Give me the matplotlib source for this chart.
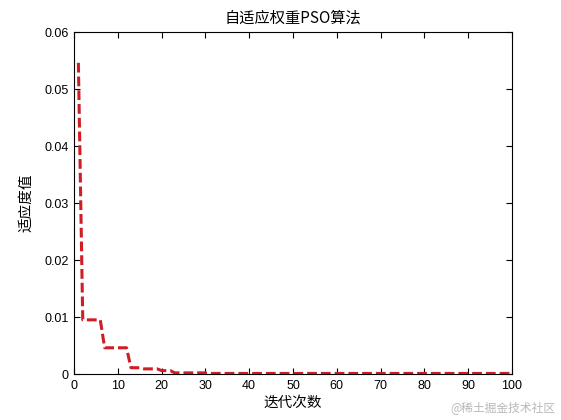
import matplotlib
matplotlib.use('Agg')
import matplotlib.pyplot as plt
from matplotlib.ticker import FixedLocator, FixedFormatter

# 数据
iters = list(range(1, 101))
fitness = ([0.0546] + [0.0095] * 5 + [0.0046] * 6 + [0.0011] * 3 + [0.0009] * 4
           + [0.0006] * 3 + [0.0002] * 8 + [0.0001] * 70)
yticks = [0, 0.01, 0.02, 0.03, 0.04, 0.05, 0.06]
ytick_labels = ['0', '0.01', '0.02', '0.03', '0.04', '0.05', '0.06']
xticks = [0, 10, 20, 30, 40, 50, 60, 70, 80, 90, 100]

cjk = ['Noto Sans CJK SC', 'DejaVu Sans']
plt.rcParams['font.family'] = ['Liberation Sans', 'Noto Sans CJK SC']

fig = plt.figure(figsize=(5.61, 4.2), dpi=100)
ax = fig.add_axes([0.1319, 0.1095, 0.7807, 0.8143])

ax.plot(iters, fitness, color='#d01c24', linestyle='--', linewidth=2.2,
        dashes=(3.2, 1.3))

ax.set_xlim(0, 100)
ax.set_ylim(0, 0.06)
ax.xaxis.set_major_locator(FixedLocator(xticks))
ax.yaxis.set_major_locator(FixedLocator(yticks))
ax.yaxis.set_major_formatter(FixedFormatter(ytick_labels))
ax.tick_params(direction='in', length=4, width=0.8, labelsize=9, pad=4,
               top=True, right=True)
for s in ax.spines.values():
    s.set_linewidth(0.8)

ax.set_title('自适应权重PSO算法', family=cjk, fontsize=11, pad=7)
ax.set_xlabel('迭代次数', family=cjk, fontsize=10.5, labelpad=3)
ax.set_ylabel('适应度值', family=cjk, fontsize=10.5, labelpad=8)

fig.text(0.99, 0.015, '@稀土掘金技术社区', family=cjk, fontsize=8.5,
         color='#b8b8b8', ha='right', va='bottom')

fig.savefig('out.png', dpi=100)
